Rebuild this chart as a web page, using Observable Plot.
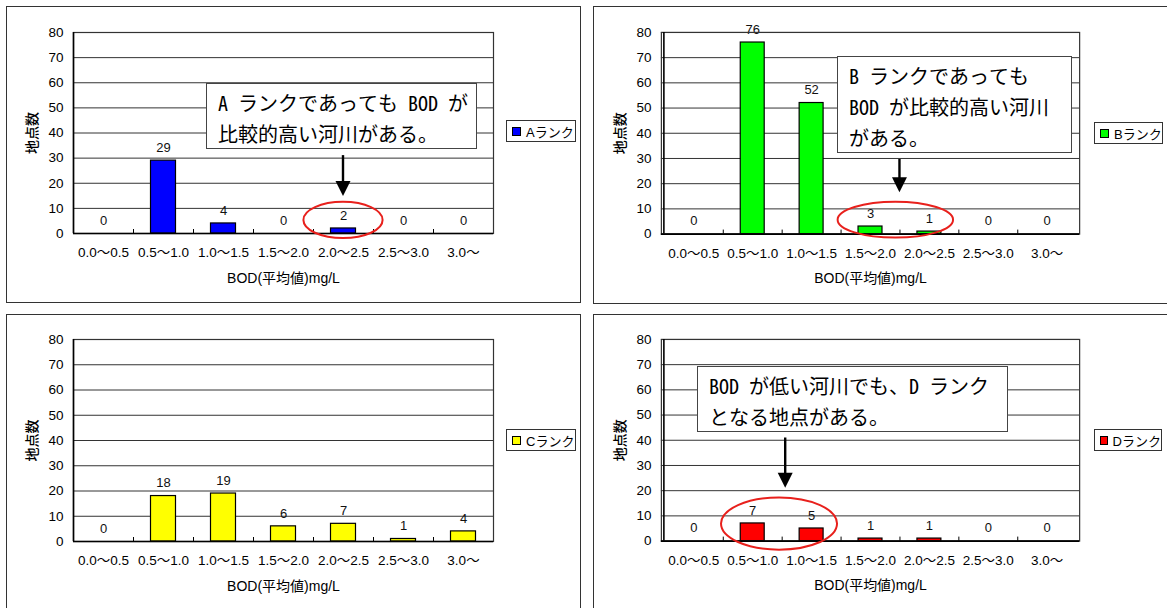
<!DOCTYPE html>
<html><head><meta charset="utf-8">
<script src="https://cdn.jsdelivr.net/npm/d3@7"></script>
<script src="https://cdn.jsdelivr.net/npm/@observablehq/plot@0.6"></script>
<style>
body{margin:0;background:#fff;width:1167px;height:608px;overflow:hidden;position:relative;font-family:'Liberation Sans','Noto Sans CJK JP',sans-serif;}
.panel{position:absolute;border:1.5px solid #333;box-sizing:border-box;}
.chart{position:absolute;}
.chart svg g[aria-label*="axis"]{font-size:13.5px !important;}
.legend{position:absolute;border:1px solid #333;background:#fff;box-sizing:border-box;font-size:13px;display:flex;align-items:center;padding-left:5px;white-space:nowrap;color:#000}
.sw{display:inline-block;width:7px;height:7px;border:1px solid #000;margin-right:5px}
.callout{position:absolute;border:1.5px solid #444;background:#fff;box-sizing:border-box;font-family:'Noto Sans Mono CJK JP','Noto Sans CJK JP',sans-serif;font-size:20px;line-height:31px;padding:3px 0 0 11px;white-space:nowrap;color:#000}
</style></head><body>
<script>
// ---- data ----
const categories = ["0.0〜0.5","0.5〜1.0","1.0〜1.5","1.5〜2.0","2.0〜2.5","2.5〜3.0","3.0〜"];
const yTicks = [0,10,20,30,40,50,60,70,80];
const seriesNames = ["Aランク","Bランク","Cランク","Dランク"];
const countsA = [0,29,4,0,2,0,0];
const countsB = [0,76,52,3,1,0,0];
const countsC = [0,18,19,6,7,1,4];
const countsD = [0,7,5,1,1,0,0];
const xTitle = "BOD(平均値)mg/L";
const yTitle = "地点数";
const calloutA = ["A ランクであっても BOD が","比較的高い河川がある。"];
const calloutB = ["B ランクであっても","BOD が比較的高い河川","がある。"];
const calloutD = ["BOD が低い河川でも、D ランク","となる地点がある。"];

// ---- layout / styles ----
const panels = [
  {name: seriesNames[0], values: countsA, color: "#0000ff", left: 0, top: 0, mt: 32, mb: 67, mr: 87,
   box: [6, 6, 575, 297], legend: [506, 120, 70, 22],
   callout: {lines: calloutA, box: [206, 83, 271, 66]},
   arrow: {pos: 4.5, from: 31, to: 14.7}, ellipse: {pos: 4.5, rx: 0.66, cy: 5.2, ry: 7.2}},
  {name: seriesNames[1], values: countsB, color: "#00ff00", left: 588, top: 0, mt: 32, mb: 66, mr: 88,
   box: [593, 6, 600, 298], legend: [1094, 122, 69, 22],
   callout: {lines: calloutB, box: [837, 56, 235, 97]},
   arrow: {pos: 4.0, from: 29.6, to: 16.4}, ellipse: {pos: 3.93, rx: 0.98, cy: 5.5, ry: 7.1}},
  {name: seriesNames[2], values: countsC, color: "#ffff00", left: 0, top: 308, mt: 31, mb: 67, mr: 87,
   box: [6, 314, 575, 320], legend: [506, 429, 70, 22]},
  {name: seriesNames[3], values: countsD, color: "#ff0000", left: 588, top: 308, mt: 31, mb: 67, mr: 88,
   box: [593, 314, 600, 320], legend: [1094, 429, 68, 22],
   callout: {lines: calloutD, box: [697, 366, 311, 66]},
   arrow: {pos: 2.06, from: 40.9, to: 21.0}, ellipse: {pos: 1.955, rx: 0.985, cy: 6.75, ry: 10.35}}
];

const FONT = "'Liberation Sans','Noto Sans CJK JP',sans-serif";

function annot(p) {
  return (index, scales) => {
    const x = scales.x, y = scales.y;
    const x0 = x(categories[0]);
    const step = x(categories[1]) - x0;
    const px = pos => x0 + pos * step;
    const g = d3.create("svg:g");
    // category boundary ticks
    for (let i = 1; i < categories.length; i++) {
      const xx = Math.round(x(categories[i])) + 0.5;
      g.append("line").attr("x1", xx).attr("x2", xx)
        .attr("y1", y(0)).attr("y2", y(0) - 4).attr("stroke", "#000");
    }
    if (p.ellipse) {
      const e = p.ellipse;
      const cy = y(e.cy);
      g.append("ellipse").attr("cx", px(e.pos)).attr("cy", cy)
        .attr("rx", e.rx * step).attr("ry", Math.abs(y(e.cy + e.ry) - cy))
        .attr("fill", "none").attr("stroke", "#e8201c").attr("stroke-width", 2);
    }
    if (p.arrow) {
      const a = p.arrow, cx = px(a.pos), tip = y(a.to), head = 15, hw = 7.5;
      g.append("line").attr("x1", cx).attr("x2", cx).attr("y1", y(a.from)).attr("y2", tip - head + 1)
        .attr("stroke", "#000").attr("stroke-width", 2.4);
      g.append("polygon").attr("points", `${cx-hw},${tip-head} ${cx+hw},${tip-head} ${cx},${tip}`)
        .attr("fill", "#000");
    }
    return g.node();
  };
}

for (const p of panels) {
  const data = categories.map((c, i) => ({cat: c, n: p.values[i]}));
  const box = document.createElement("div");
  box.className = "panel";
  Object.assign(box.style, {left: p.box[0] + "px", top: p.box[1] + "px", width: p.box[2] + "px", height: p.box[3] + "px"});
  document.body.appendChild(box);

  const chart = Plot.plot({
    width: 580, height: 300,
    marginLeft: 73, marginRight: p.mr, marginTop: p.mt, marginBottom: p.mb,
    style: {background: "transparent", fontSize: "13px", fontFamily: FONT, color: "#000", overflow: "visible"},
    x: {domain: categories, padding: 0, tickSize: 0, tickPadding: 14, label: null},
    y: {domain: [0, 80], ticks: yTicks, tickSize: 0, tickPadding: 10, label: null},
    marks: [
      Plot.ruleY(yTicks, {stroke: "#333", strokeWidth: 1}),
      Plot.barY(data, {x: "cat", y: "n", fill: p.color, stroke: "#000", strokeWidth: 1.2, insetLeft: 17.5, insetRight: 17.5}),
      Plot.text(data, {x: "cat", y: "n", text: d => String(d.n), dy: -13, fontSize: 13, fill: "#111"}),
      Plot.frame({stroke: "#333", strokeWidth: 1.2}),
      Plot.ruleY([0], {stroke: "#000", strokeWidth: 1.6}),
      Plot.ruleX([categories[0]], {dx: -30, stroke: "#000", strokeWidth: 1.6}),
      Plot.text([yTitle], {text: d => d, frameAnchor: "left", dx: -41, rotate: -90, textAnchor: "middle", lineAnchor: "middle", fontSize: 14, fontWeight: 500}),
      Plot.text([xTitle], {text: d => d, frameAnchor: "bottom", dy: 45, lineAnchor: "middle", fontSize: 14}),
      annot(p)
    ]
  });
  const wrap = document.createElement("div");
  wrap.className = "chart";
  Object.assign(wrap.style, {left: p.left + "px", top: p.top + "px"});
  wrap.appendChild(chart);
  document.body.appendChild(wrap);

  const lg = document.createElement("div");
  lg.className = "legend";
  Object.assign(lg.style, {left: p.legend[0] + "px", top: p.legend[1] + "px", width: p.legend[2] + "px", height: p.legend[3] + "px"});
  const sw = document.createElement("span");
  sw.className = "sw"; sw.style.background = p.color;
  lg.appendChild(sw);
  lg.appendChild(document.createTextNode(p.name));
  document.body.appendChild(lg);

  if (p.callout) {
    const c = document.createElement("div");
    c.className = "callout";
    const b = p.callout.box;
    Object.assign(c.style, {left: b[0] + "px", top: b[1] + "px", width: b[2] + "px", height: b[3] + "px"});
    c.innerHTML = p.callout.lines.map(s => `<div>${s}</div>`).join("");
    document.body.appendChild(c);
  }
}
</script>
</body></html>
